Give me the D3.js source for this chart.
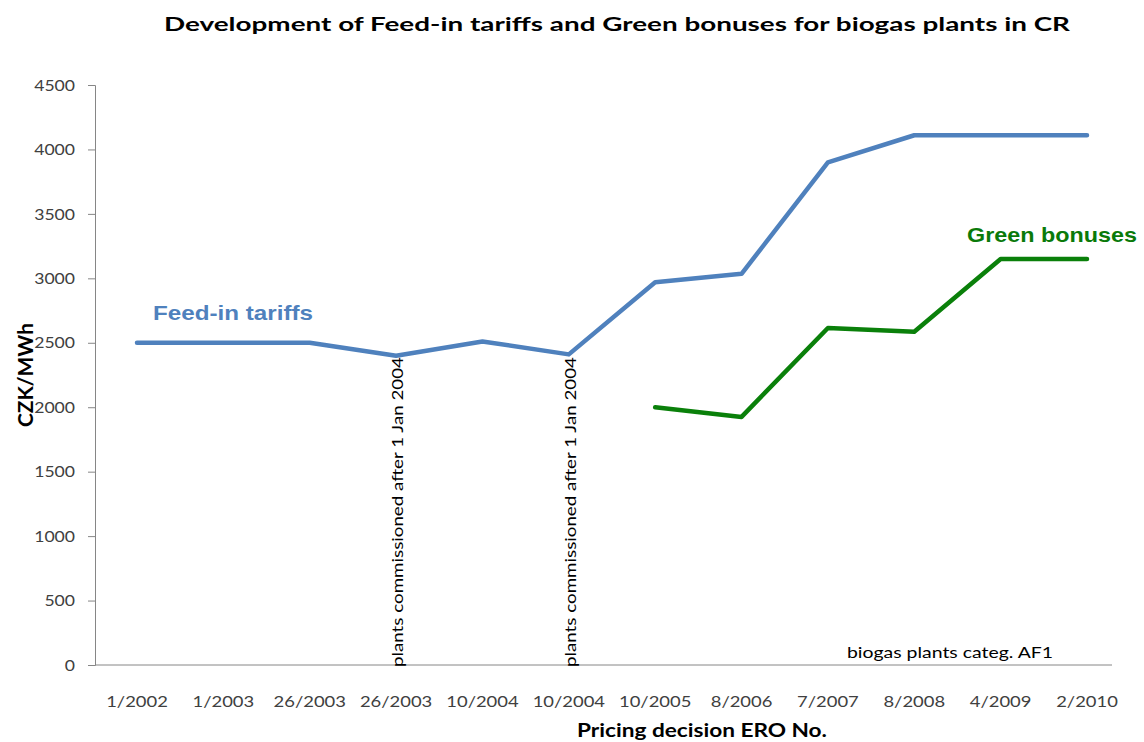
<!DOCTYPE html>
<html><head><meta charset="utf-8">
<script src="https://cdn.jsdelivr.net/npm/d3@7"></script>
<style>body{margin:0;background:#fff}svg{display:block}</style>
</head><body>
<svg id="c" width="1144" height="742"></svg>
<script>
const categories = ["1/2002","1/2003","26/2003","26/2003","10/2004","10/2004","10/2005","8/2006","7/2007","8/2008","4/2009","2/2010"];
const feedIn = [2500,2500,2500,2400,2510,2410,2970,3035,3900,4110,4110,4110];
const greenBonus = [null,null,null,null,null,null,2000,1925,2615,2585,3150,3150];
const yTicks = [0,500,1000,1500,2000,2500,3000,3500,4000,4500];
const annotated = [3,5];
const annotationText = "plants commissioned after 1 Jan 2004";

const svg = d3.select("#c");
const F = "Lato, 'Open Sans', sans-serif";
const A = "'Liberation Sans', Arial, sans-serif";
const idx = categories.map((d,i)=>i);

const x = d3.scalePoint().domain(idx).range([137,1087]);
const y = d3.scaleLinear().domain([0,4500]).range([665,85]);

function fit(sel, w){ return sel.attr("textLength", w).attr("lengthAdjust","spacingAndGlyphs"); }

// title
fit(svg.append("text").attr("x",164).attr("y",31)
  .attr("font-family",F).attr("font-weight","bold").attr("font-size",19).attr("fill","#000")
  .text("Development of Feed-in tariffs and Green bonuses for biogas plants in CR"), 906);

// y axis
const ya = svg.append("g").attr("transform","translate(95,0)")
  .call(d3.axisLeft(y).tickValues(yTicks).tickSize(7).tickFormat(d3.format("d")));
ya.selectAll("path,line").attr("stroke","#868686");
ya.selectAll("text").attr("x",0).attr("transform","translate(-20,0) scale(1.1,1)")
  .attr("font-family",F).attr("font-size",16).attr("fill","#404040");

// x axis line
svg.append("line").attr("x1",95).attr("x2",1112).attr("y1",y(0)).attr("y2",y(0)).attr("stroke","#868686");

// x labels
svg.append("g").selectAll("text").data(idx).join("text")
  .attr("transform",d=>`translate(${x(d)},707) scale(1.15,1)`).attr("text-anchor","middle")
  .attr("font-family",F).attr("font-size",16).attr("fill","#404040")
  .text(d=>categories[d]);

// axis titles
fit(svg.append("text").attr("x",577).attr("y",737)
  .attr("font-family",F).attr("font-weight","bold").attr("font-size",18.5).attr("fill","#000")
  .text("Pricing decision  ERO No."), 250);
fit(svg.append("text").attr("transform","translate(33,427) rotate(-90)")
  .attr("font-family",F).attr("font-weight","bold").attr("font-size",20).attr("fill","#000")
  .text("CZK/MWh"), 104);

// lines
const line = d3.line().defined(d=>d[1]!=null).x(d=>x(d[0])).y(d=>y(d[1]));
svg.append("path").datum(feedIn.map((v,i)=>[i,v])).attr("d",line)
  .attr("fill","none").attr("stroke","#4F81BD").attr("stroke-width",4.5).attr("stroke-linejoin","round").attr("stroke-linecap","round");
svg.append("path").datum(greenBonus.map((v,i)=>[i,v])).attr("d",line)
  .attr("fill","none").attr("stroke","#0A800A").attr("stroke-width",4.5).attr("stroke-linejoin","round").attr("stroke-linecap","round");

// annotations
const ann = svg.append("g").selectAll("text").data(annotated).join("text")
  .attr("transform",d=>`translate(${x(d)+7},667) rotate(-90)`)
  .attr("font-family",F).attr("font-size",15).attr("fill","#000")
  .text(annotationText);
fit(ann, 310);

fit(svg.append("text").attr("x",847).attr("y",658)
  .attr("font-family",F).attr("font-size",15).attr("fill","#000")
  .text("biogas plants categ. AF1"), 206);

// series labels
fit(svg.append("text").attr("x",153).attr("y",320)
  .attr("font-family",A).attr("font-weight","bold").attr("font-size",20.5).attr("fill","#4F81BD")
  .text("Feed-in tariffs"), 160);
fit(svg.append("text").attr("x",967).attr("y",242)
  .attr("font-family",A).attr("font-weight","bold").attr("font-size",20.5).attr("fill","#0A7A0A")
  .text("Green bonuses"), 170);
</script>
</body></html>
